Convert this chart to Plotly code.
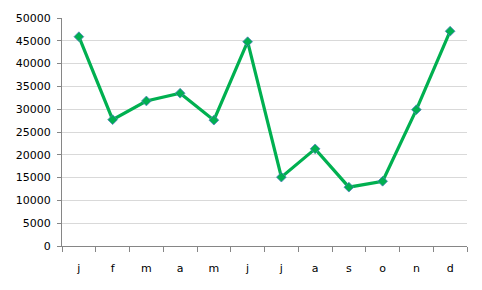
import plotly.graph_objects as go

months = ["j", "f", "m", "a", "m", "j", "j", "a", "s", "o", "n", "d"]
values = [45900, 27700, 31800, 33500, 27600, 44800, 15100, 21300, 12900, 14200, 29900, 47100]
y_ticks = list(range(0, 50001, 5000))

x_idx = list(range(len(months)))

fig = go.Figure()
fig.add_trace(go.Scatter(
    x=x_idx, y=values, mode="lines+markers",
    line=dict(color="#00B050", width=3.2),
    marker=dict(symbol="diamond", size=7.5, color="#00B050",
                line=dict(color="#4F81BD", width=0.8)),
    hoverinfo="skip",
))

fig.update_layout(
    width=482, height=290,
    margin=dict(l=62, r=15, t=16, b=44),
    paper_bgcolor="white", plot_bgcolor="white",
    showlegend=False,
    font=dict(family="DejaVu Sans", size=11, color="#000000"),
)
fig.update_xaxes(
    tickmode="array", tickvals=x_idx, ticktext=months,
    range=[-0.5, len(months) - 0.5],
    showgrid=False, zeroline=False,
    showline=True, linecolor="#868686", linewidth=1,
    ticks="", ticklabelstandoff=12,
)
# boundary tick marks via minor ticks
fig.update_xaxes(
    minor=dict(tickmode="array", tickvals=[i - 0.5 for i in range(len(months) + 1)],
               ticks="outside", ticklen=5, tickcolor="#868686", showgrid=False),
)
fig.update_yaxes(
    range=[0, 50000], tickmode="array", tickvals=y_ticks,
    ticktext=[str(v) for v in y_ticks],
    showgrid=True, gridcolor="#D9D9D9", gridwidth=1,
    zeroline=False, showline=True, linecolor="#868686", linewidth=1,
    ticks="outside", ticklen=4, tickcolor="#868686",
    ticklabelstandoff=4,
)

fig.write_html("out.html")
